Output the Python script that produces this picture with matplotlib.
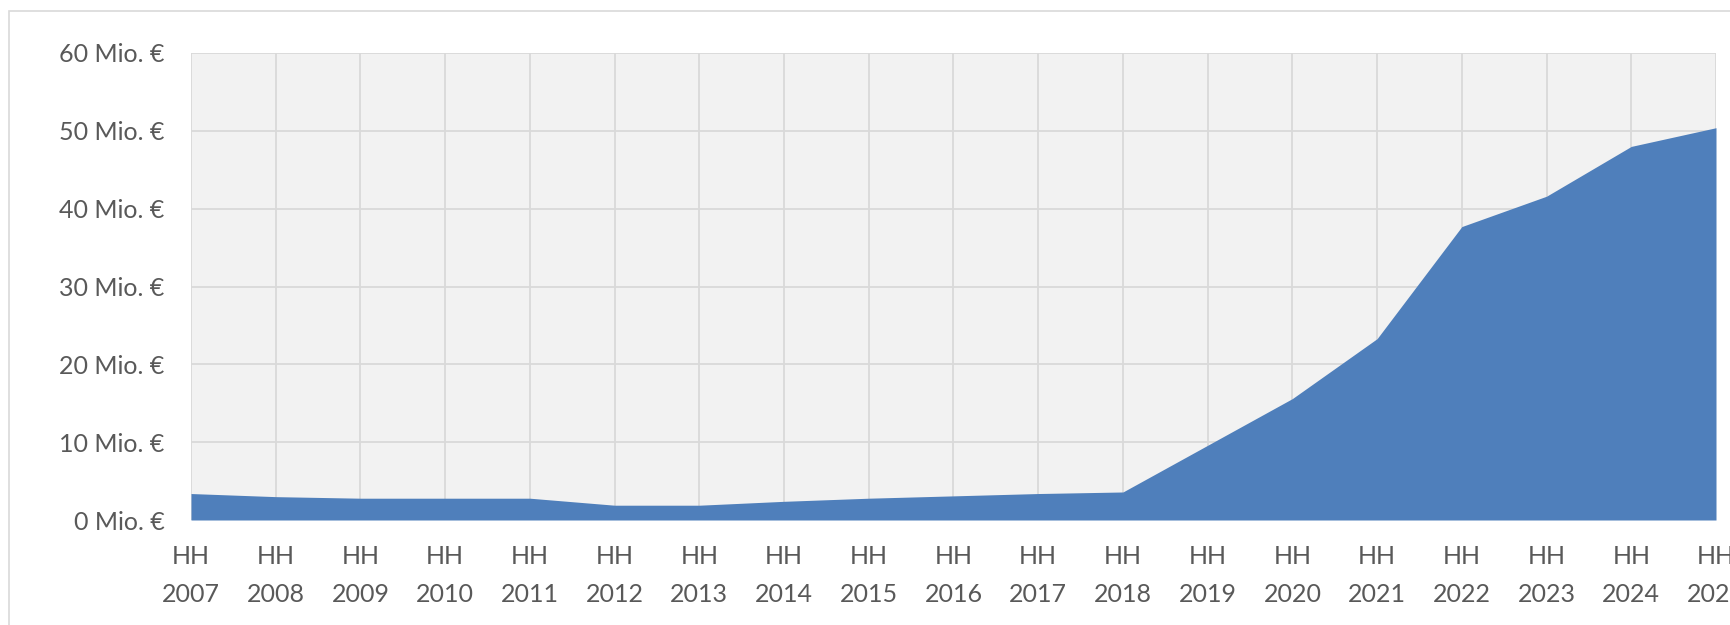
import numpy as np
import matplotlib.pyplot as plt
from matplotlib.patches import Rectangle

# === Data ===
years = list(range(2007, 2026))
labels = [f"HH\n{y}" for y in years]
values = [3.4, 3.0, 2.8, 2.8, 2.8, 1.9, 1.9, 2.4, 2.8, 3.1, 3.4, 3.6,
          9.6, 15.6, 23.3, 37.7, 41.6, 48.0, 50.4]  # Mio. €
yticks = [0, 10, 20, 30, 40, 50, 60]

plt.rcParams['font.family'] = ['Lato', 'DejaVu Sans']
TXT = '#595959'

fig = plt.figure(figsize=(17.31, 6.25), dpi=100)
# chart frame (cropped at right/bottom)
fig.patches.append(Rectangle((9 / 1731, -0.1), 1.2, 1.1 - 11 / 625,
                             transform=fig.transFigure, fill=False,
                             edgecolor='#d9d9d9', lw=1.2))

ax = fig.add_axes([191 / 1731, 1 - 520 / 625, (1716 - 191) / 1731, (520 - 53) / 625])
ax.set_facecolor('#f2f2f2')

x = np.arange(len(years))
ax.fill_between(x, values, 0, color='#4f7fbb', lw=0, zorder=3)

ax.set_xlim(0, len(years) - 1)
ax.set_ylim(0, 60)
ax.set_xticks(x)
ax.set_xticklabels(labels, fontsize=18, color=TXT, linespacing=1.8)
ax.set_yticks(yticks)
ax.set_yticklabels([f"{v} Mio. €" for v in yticks], fontsize=18, color=TXT)
ax.tick_params(axis='both', length=0)
ax.tick_params(axis='y', pad=19)
ax.tick_params(axis='x', pad=18)
ax.grid(True, color='#d9d9d9', lw=1.3, zorder=1)
ax.set_axisbelow(True)
for s in ax.spines.values():
    s.set_visible(False)

fig.savefig('out.png', dpi=100)
